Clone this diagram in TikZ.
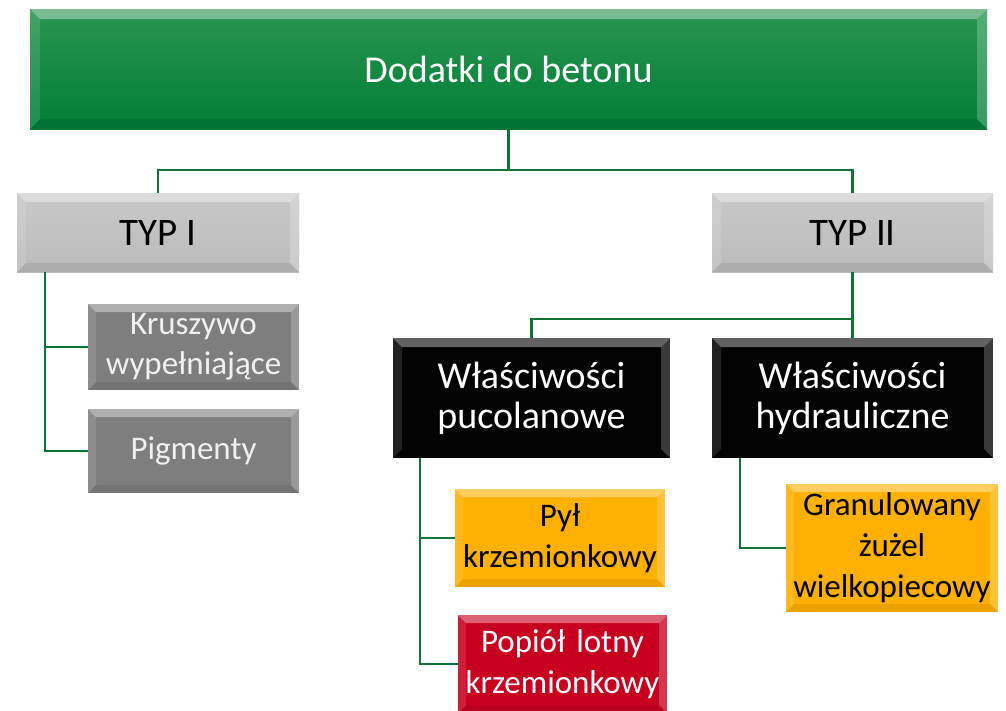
\documentclass[tikz,border=0pt]{standalone}
\usepackage{fontspec}
\setmainfont{Carlito}
\definecolor{greenT}{HTML}{2A9550}
\definecolor{greenB}{HTML}{007E37}
\definecolor{typgray}{HTML}{C1C1C1}
\definecolor{darkgray}{HTML}{7E7E7E}
\definecolor{boxblack}{HTML}{030303}
\definecolor{boxorange}{HTML}{FFB000}
\definecolor{boxred}{HTML}{C8001F}
\definecolor{linegreen}{HTML}{0E7536}
\definecolor{lighttext}{HTML}{F0F0F0}
\tikzset{
  bevel/.style={path picture={
    \path (path picture bounding box.north west) coordinate (bNW)
          (path picture bounding box.north east) coordinate (bNE)
          (path picture bounding box.south west) coordinate (bSW)
          (path picture bounding box.south east) coordinate (bSE);
    \fill[white,opacity=.38] (bNW) -- (bNE) -- ([xshift=-#1,yshift=-#1]bNE) -- ([xshift=#1,yshift=-#1]bNW) -- cycle;
    \fill[white,opacity=.12] (bNW) -- ([xshift=#1,yshift=-#1]bNW) -- ([xshift=#1,yshift=#1]bSW) -- (bSW) -- cycle;
    \fill[white,opacity=.22] (bNE) -- ([xshift=-#1,yshift=-#1]bNE) -- ([xshift=-#1,yshift=#1]bSE) -- (bSE) -- cycle;
    \fill[black,opacity=.08] (bSW) -- ([xshift=#1,yshift=#1]bSW) -- ([xshift=-#1,yshift=#1]bSE) -- (bSE) -- cycle;
  }},
  bevel/.default=9pt,
  box/.style={rectangle,inner sep=0pt,outer sep=0pt,align=center},
  conn/.style={draw=linegreen,line width=2.6pt},
}
\newcommand{\fsRoot}{\fontsize{38pt}{40pt}\selectfont}
\newcommand{\fsTyp}{\fontsize{39pt}{40pt}\selectfont}
\newcommand{\fsProp}{\fontsize{38pt}{40pt}\selectfont}
\newcommand{\fsSmall}{\fontsize{33pt}{40pt}\selectfont}
\newcommand{\fsLeaf}{\fontsize{33pt}{41pt}\selectfont}
\begin{document}
\begin{tikzpicture}[x=1pt,y=-1pt]
\useasboundingbox[fill=white] (0,0) rectangle (1006,710);

\node[box,bevel=10pt,top color=greenT,bottom color=greenB,minimum width=957pt,minimum height=120pt,text=white,font=\fsRoot] (root) at (508.5,69) {Dodatki do betonu};

\node[box,bevel,top color=typgray!88!white,bottom color=typgray!97!black,minimum width=282pt,minimum height=79pt,text=black,font=\fsTyp] (typ1) at (158,232.5) {TYP I};
\node[box,bevel,top color=typgray!88!white,bottom color=typgray!97!black,minimum width=281pt,minimum height=79pt,text=black,font=\fsTyp] (typ2) at (852.5,232.5) {TYP II};

\node[box,bevel=8pt,fill=darkgray,minimum width=211pt,minimum height=86pt,text width=208pt,text=lighttext,font=\fsSmall] (krusz) at (193.5,347) {Kruszywo\\wypełniające};
\node[box,bevel=8pt,fill=darkgray,minimum width=211pt,minimum height=84pt,text width=208pt,text=lighttext,font=\fsSmall] (pigm) at (193.5,451) {Pigmenty};

\node[box,bevel,fill=boxblack,minimum width=277pt,minimum height=120pt,text width=270pt,text=white,font=\fsProp] (pucol) at (531.5,398) {Właściwości\\pucolanowe};
\node[box,bevel,fill=boxblack,minimum width=281pt,minimum height=120pt,text width=275pt,text=white,font=\fsProp] (hydr) at (852.5,398) {Właściwości\\hydrauliczne};

\node[box,bevel=8pt,fill=boxorange,minimum width=210pt,minimum height=98pt,text width=208pt,text=black,font=\fsLeaf] (pyl) at (560,538) {Pył\\krzemionkowy};
\node[box,bevel=8pt,fill=boxred,minimum width=209pt,minimum height=98pt,text width=208pt,text=white,font=\fsLeaf] (popiol) at (562.5,664) {Popiół lotny\\krzemionkowy};
\node[box,bevel=8pt,fill=boxorange,minimum width=212pt,minimum height=128pt,text width=210pt,text=black,font=\fsLeaf] (granul) at (892,548) {Granulowany\\żużel\\wielkopiecowy};

\draw[conn] (root.south) -- ++(0,41) coordinate (j1) -| (typ1.north);
\draw[conn] (j1) -| (typ2.north);
\draw[conn] ([xshift=28pt]typ1.south west) |- (krusz.west);
\draw[conn] ([xshift=28pt]typ1.south west) |- (pigm.west);
\draw[conn] (typ2.south) -- ++(0,47) coordinate (j2) -| (pucol.north);
\draw[conn] (j2) -- (hydr.north);
\draw[conn] ([xshift=27pt]pucol.south west) |- (pyl.west);
\draw[conn] ([xshift=27pt]pucol.south west) |- (popiol.west);
\draw[conn] ([xshift=28pt]hydr.south west) |- (granul.west);
\end{tikzpicture}
\end{document}
